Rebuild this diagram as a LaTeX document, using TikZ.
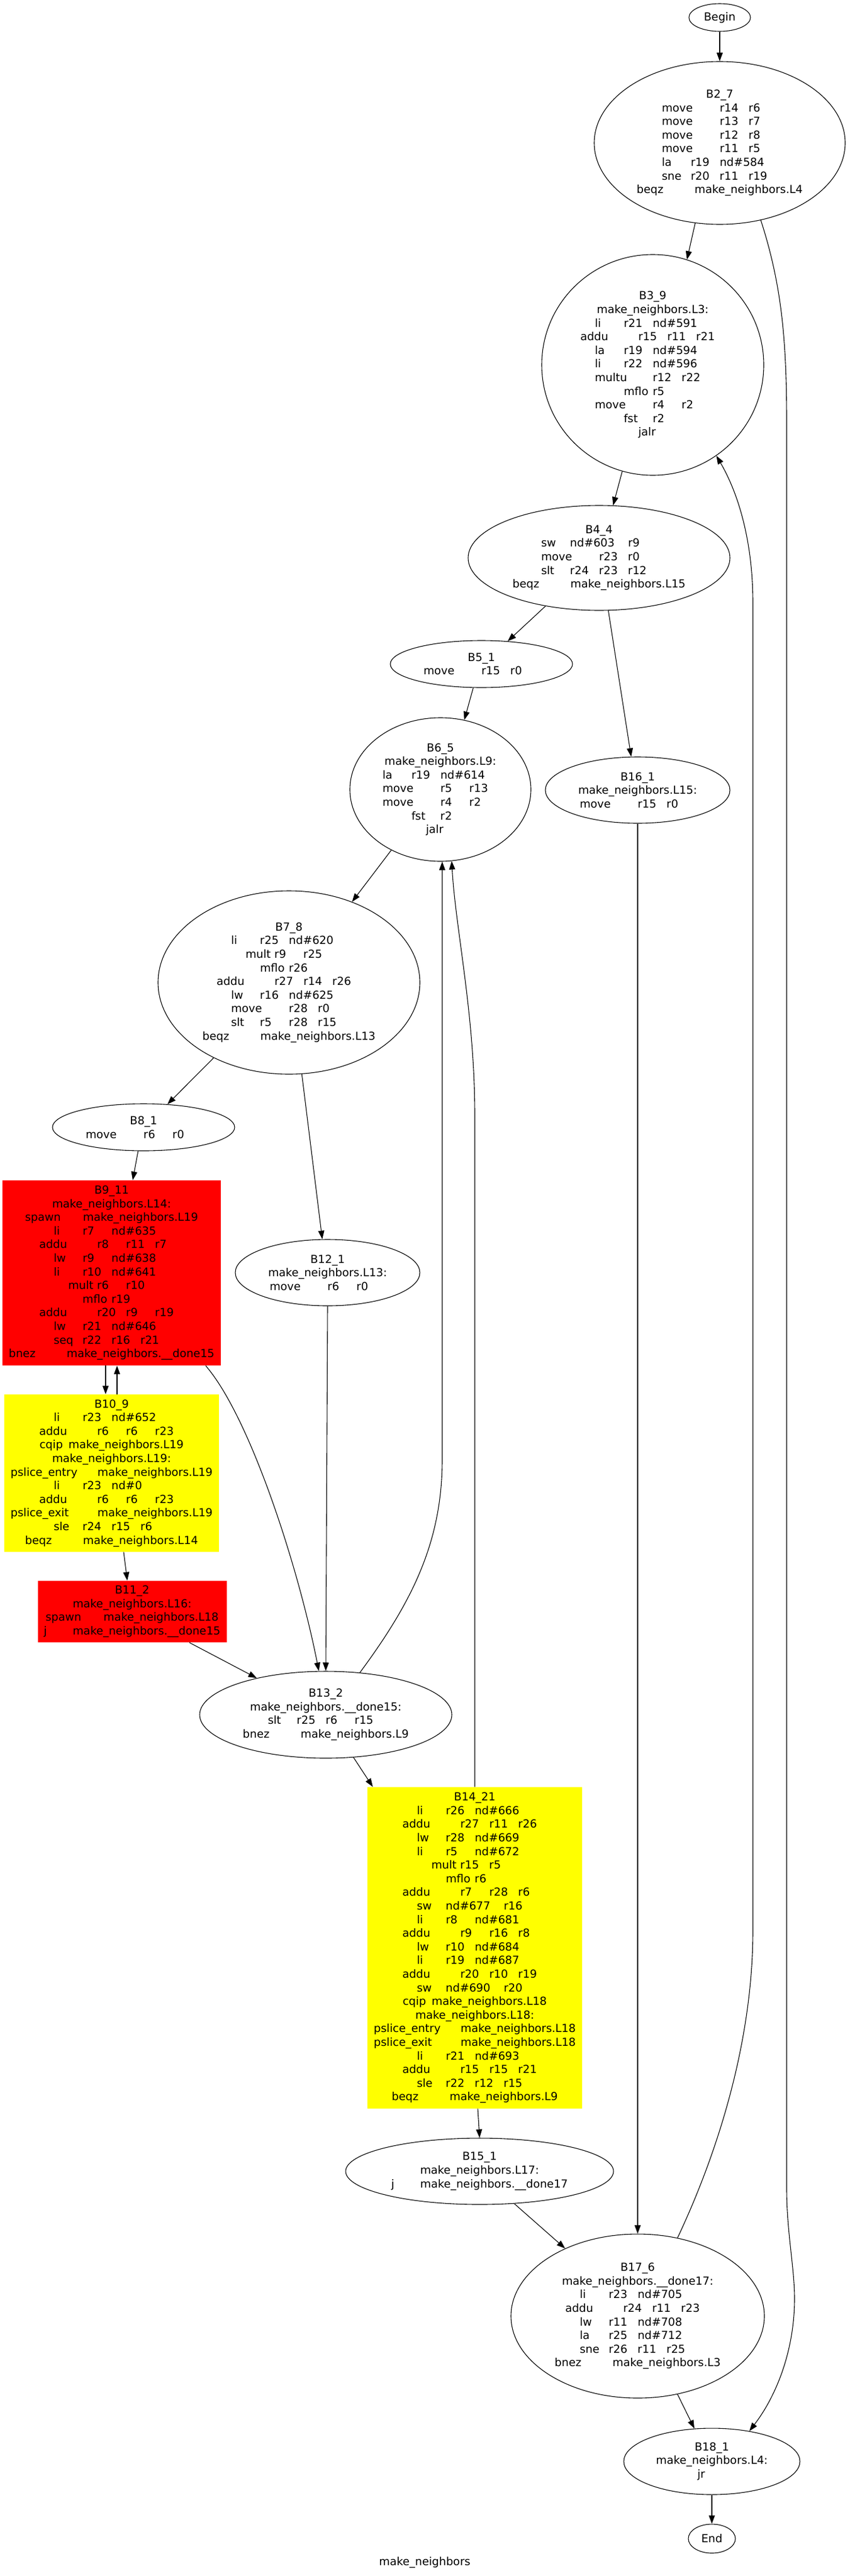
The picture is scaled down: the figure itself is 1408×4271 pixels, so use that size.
\documentclass[tikz,border=0pt]{standalone}
\usepackage{fontspec}
\setmainfont{DejaVu Sans}
\usetikzlibrary{shapes.geometric}
\usetikzlibrary{arrows.meta}
\definecolor{gvred}{RGB}{255,0,0}
\definecolor{gvyellow}{RGB}{255,255,0}
\newlength\tabw
\setlength\tabw{24pt}
\newcommand{\tcol}[2]{\makebox[#1\tabw][l]{#2}}

\begin{document}
\begin{tikzpicture}[x=0.5pt, y=-0.5pt, every node/.style={inner sep=0pt, align=center, font=\fontsize{9.2}{11.3}\selectfont},
blk/.style={shape=ellipse, draw, line width=0.55pt},
redblk/.style={shape=rectangle, fill=gvred},
yelblk/.style={shape=rectangle, fill=gvyellow},
flow/.style={draw, line width=0.55pt, -{Triangle[length=7pt, width=5pt]}}]
\useasboundingbox (0,0) rectangle (1408,4271);

\node (b0) at (1193,29) [blk, minimum width=51pt, minimum height=23pt] {Begin};
\node (b2) at (1193,237) [blk, minimum width=208pt, minimum height=135pt] {B2\_7\\
\tcol2{move}\tcol1{r14}\tcol1{r6}\\
\tcol2{move}\tcol1{r13}\tcol1{r7}\\
\tcol2{move}\tcol1{r12}\tcol1{r8}\\
\tcol2{move}\tcol1{r11}\tcol1{r5}\\
\tcol1{la}\tcol1{r19}\tcol2{nd\#584}\\
\tcol1{sne}\tcol1{r20}\tcol1{r11}\tcol1{r19}\\
\tcol2{beqz}make\_neighbors.L4};
\node (b3) at (1082,605) [blk, minimum width=184pt, minimum height=183pt] {B3\_9\\
make\_neighbors.L3:\\
\tcol1{li}\tcol1{r21}\tcol2{nd\#591}\\
\tcol2{addu}\tcol1{r15}\tcol1{r11}\tcol1{r21}\\
\tcol1{la}\tcol1{r19}\tcol2{nd\#594}\\
\tcol1{li}\tcol1{r22}\tcol2{nd\#596}\\
\tcol2{multu}\tcol1{r12}\tcol1{r22}\\
\tcol1{mflo}\tcol1{r5}\\
\tcol2{move}\tcol1{r4}\tcol1{r2}\\
\tcol1{fst}\tcol1{r2}\\
\tcol1{jalr}};
\node (b4) at (993,925) [blk, minimum width=217pt, minimum height=87pt] {B4\_4\\
\tcol1{sw}\tcol2{nd\#603}\tcol1{r9}\\
\tcol2{move}\tcol1{r23}\tcol1{r0}\\
\tcol1{slt}\tcol1{r24}\tcol1{r23}\tcol1{r12}\\
\tcol2{beqz}make\_neighbors.L15};
\node (b5) at (798,1101) [blk, minimum width=151pt, minimum height=39pt] {B5\_1\\
\tcol2{move}\tcol1{r15}\tcol1{r0}};
\node (b6) at (730,1309) [blk, minimum width=150pt, minimum height=119pt] {B6\_5\\
make\_neighbors.L9:\\
\tcol1{la}\tcol1{r19}\tcol2{nd\#614}\\
\tcol2{move}\tcol1{r5}\tcol1{r13}\\
\tcol2{move}\tcol1{r4}\tcol1{r2}\\
\tcol1{fst}\tcol1{r2}\\
\tcol1{jalr}};
\node (b16) at (1057,1310) [blk, minimum width=153pt, minimum height=55pt] {B16\_1\\
make\_neighbors.L15:\\
\tcol2{move}\tcol1{r15}\tcol1{r0}};
\node (b7) at (479,1629) [blk, minimum width=217pt, minimum height=152pt] {B7\_8\\
\tcol1{li}\tcol1{r25}\tcol2{nd\#620}\\
\tcol1{mult}\tcol1{r9}\tcol1{r25}\\
\tcol1{mflo}\tcol1{r26}\\
\tcol2{addu}\tcol1{r27}\tcol1{r14}\tcol1{r26}\\
\tcol1{lw}\tcol1{r16}\tcol2{nd\#625}\\
\tcol2{move}\tcol1{r28}\tcol1{r0}\\
\tcol1{slt}\tcol1{r5}\tcol1{r28}\tcol1{r15}\\
\tcol2{beqz}make\_neighbors.L13};
\node (b8) at (238,1869) [blk, minimum width=151pt, minimum height=39pt] {B8\_1\\
\tcol2{move}\tcol1{r6}\tcol1{r0}};
\node (b9) at (185,2110.5) [redblk, minimum width=181pt, minimum height=153.5pt] {B9\_11\\
make\_neighbors.L14:\\
\tcol2{spawn}make\_neighbors.L19\\
\tcol1{li}\tcol1{r7}\tcol2{nd\#635}\\
\tcol2{addu}\tcol1{r8}\tcol1{r11}\tcol1{r7}\\
\tcol1{lw}\tcol1{r9}\tcol2{nd\#638}\\
\tcol1{li}\tcol1{r10}\tcol2{nd\#641}\\
\tcol1{mult}\tcol1{r6}\tcol1{r10}\\
\tcol1{mflo}\tcol1{r19}\\
\tcol2{addu}\tcol1{r20}\tcol1{r9}\tcol1{r19}\\
\tcol1{lw}\tcol1{r21}\tcol2{nd\#646}\\
\tcol1{seq}\tcol1{r22}\tcol1{r16}\tcol1{r21}\\
\tcol2{bnez}make\_neighbors.\_\_done15};
\node (b12) at (543,2110) [blk, minimum width=153pt, minimum height=55pt] {B12\_1\\
make\_neighbors.L13:\\
\tcol2{move}\tcol1{r6}\tcol1{r0}};
\node (b10) at (185,2442.5) [yelblk, minimum width=178pt, minimum height=130.5pt] {B10\_9\\
\tcol1{li}\tcol1{r23}\tcol2{nd\#652}\\
\tcol2{addu}\tcol1{r6}\tcol1{r6}\tcol1{r23}\\
\tcol1{cqip}make\_neighbors.L19\\
make\_neighbors.L19:\\
\tcol3{pslice\_entry}make\_neighbors.L19\\
\tcol1{li}\tcol1{r23}\tcol2{nd\#0}\\
\tcol2{addu}\tcol1{r6}\tcol1{r6}\tcol1{r23}\\
\tcol3{pslice\_exit}make\_neighbors.L19\\
\tcol1{sle}\tcol1{r24}\tcol1{r15}\tcol1{r6}\\
\tcol2{beqz}make\_neighbors.L14};
\node (b11) at (219,2672) [redblk, minimum width=156.5pt, minimum height=51pt] {B11\_2\\
make\_neighbors.L16:\\
\tcol2{spawn}make\_neighbors.L18\\
\tcol1{j}make\_neighbors.\_\_done15};
\node (b13) at (540,2843) [blk, minimum width=209pt, minimum height=72pt] {B13\_2\\
make\_neighbors.\_\_done15:\\
\tcol1{slt}\tcol1{r25}\tcol1{r6}\tcol1{r15}\\
\tcol2{bnez}make\_neighbors.L9};
\node (b14) at (787,3229.5) [yelblk, minimum width=178pt, minimum height=266.5pt] {B14\_21\\
\tcol1{li}\tcol1{r26}\tcol2{nd\#666}\\
\tcol2{addu}\tcol1{r27}\tcol1{r11}\tcol1{r26}\\
\tcol1{lw}\tcol1{r28}\tcol2{nd\#669}\\
\tcol1{li}\tcol1{r5}\tcol2{nd\#672}\\
\tcol1{mult}\tcol1{r15}\tcol1{r5}\\
\tcol1{mflo}\tcol1{r6}\\
\tcol2{addu}\tcol1{r7}\tcol1{r28}\tcol1{r6}\\
\tcol1{sw}\tcol2{nd\#677}\tcol1{r16}\\
\tcol1{li}\tcol1{r8}\tcol2{nd\#681}\\
\tcol2{addu}\tcol1{r9}\tcol1{r16}\tcol1{r8}\\
\tcol1{lw}\tcol1{r10}\tcol2{nd\#684}\\
\tcol1{li}\tcol1{r19}\tcol2{nd\#687}\\
\tcol2{addu}\tcol1{r20}\tcol1{r10}\tcol1{r19}\\
\tcol1{sw}\tcol2{nd\#690}\tcol1{r20}\\
\tcol1{cqip}make\_neighbors.L18\\
make\_neighbors.L18:\\
\tcol3{pslice\_entry}make\_neighbors.L18\\
\tcol3{pslice\_exit}make\_neighbors.L18\\
\tcol1{li}\tcol1{r21}\tcol2{nd\#693}\\
\tcol2{addu}\tcol1{r15}\tcol1{r15}\tcol1{r21}\\
\tcol1{sle}\tcol1{r22}\tcol1{r12}\tcol1{r15}\\
\tcol2{beqz}make\_neighbors.L9};
\node (b15) at (795,3600) [blk, minimum width=222pt, minimum height=55pt] {B15\_1\\
make\_neighbors.L17:\\
\tcol1{j}make\_neighbors.\_\_done17};
\node (b17) at (1057,3840) [blk, minimum width=210pt, minimum height=136pt] {B17\_6\\
make\_neighbors.\_\_done17:\\
\tcol1{li}\tcol1{r23}\tcol2{nd\#705}\\
\tcol2{addu}\tcol1{r24}\tcol1{r11}\tcol1{r23}\\
\tcol1{lw}\tcol1{r11}\tcol2{nd\#708}\\
\tcol1{la}\tcol1{r25}\tcol2{nd\#712}\\
\tcol1{sne}\tcol1{r26}\tcol1{r11}\tcol1{r25}\\
\tcol2{bnez}make\_neighbors.L3};
\node (b18) at (1180,4081) [blk, minimum width=146pt, minimum height=55pt] {B18\_1\\
make\_neighbors.L4:\\
\tcol1{jr}};
\node (b19) at (1180,4209) [blk, minimum width=39pt, minimum height=24pt] {End};
\node (title) at (704,4249) {make\_neighbors};

% control flow
\draw[flow] (b0.south) -- (b2.north);
\draw[flow] (b2.-107) -- (b3.72);
\draw[flow] (b2.-62) .. controls (1295,470) and (1304,560) .. (1304,700) -- (1304,3629) .. controls (1304,3700) and (1317,3760) .. (1317,3811) .. controls (1317,3900) and (1285,3975) .. (b18.39);
\draw[flow] (b3.-106) -- (b4.75);
\draw[flow] (b4.-138) -- (b5.41);
\draw[flow] (b4.-80) -- (b16.101);
\draw[flow] (b5.-109) -- (b6.71);
\draw[flow] (b16.south) -- (b17.north);
\draw[flow] (b6.-129) -- (b7.52);
\draw[flow] (b7.-135) -- (b8.44);
\draw[flow] (b7.-82) -- (b12.99);
\draw[flow] (b8.-103) -- ([xshift=17.5pt]b9.north);
\draw[flow] ([xshift=-5pt]b9.south) -- ([xshift=-5pt]b10.north);
\draw[flow] ([xshift=4.5pt]b10.north) -- ([xshift=4.5pt]b9.south);
\draw[flow] ([xshift=78pt]b9.south) .. controls (415,2350) and (495,2600) .. (b13.99);
\draw[flow] ([xshift=10pt]b10.south) -- ([xshift=-4pt]b11.north);
\draw[flow] (b12.south) -- (b13.north);
\draw[flow] ([xshift=47.5pt]b11.south) -- (b13.152);
\draw[flow] (b13.51) .. controls (680,2660) and (733,2560) .. (733,2420) -- ([xshift=1.5pt]b6.south);
\draw[flow] (b13.-57) -- ([xshift=-84.5pt]b14.north);
\draw[flow] (b14.north) -- (787,1850) .. controls (787,1680) and (755,1540) .. (b6.-81);
\draw[flow] ([xshift=2.5pt]b14.south) -- (b15.north);
\draw[flow] (b15.-43) -- (b17.137);
\draw[flow] (b17.63) .. controls (1180,3590) and (1248,3400) .. (1248,3200) -- (1248,1000) .. controls (1248,900) and (1225,820) .. (b3.-55);
\draw[flow] (b17.-63) -- (b18.118);
\draw[flow] (b18.south) -- (b19.north);
\end{tikzpicture}
\end{document}
